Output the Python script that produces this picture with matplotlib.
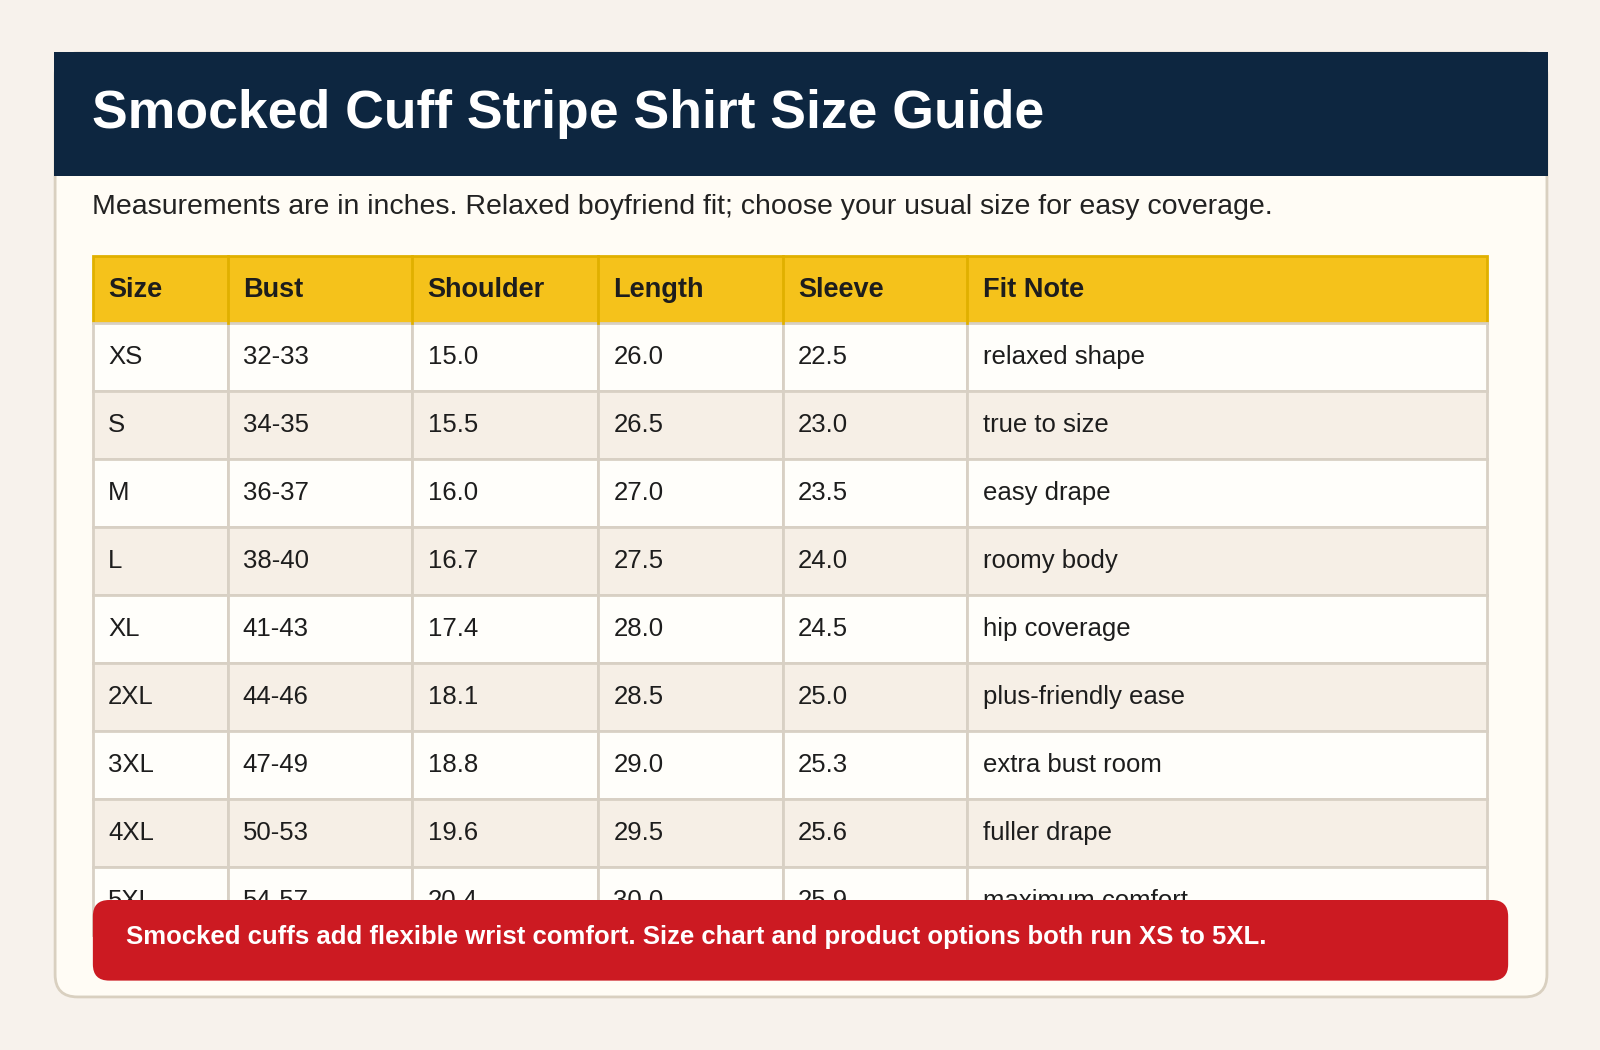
import matplotlib.pyplot as plt
from matplotlib.patches import FancyBboxPatch, Rectangle

plt.rcParams['font.family'] = ['Liberation Sans', 'DejaVu Sans']

title = 'Smocked Cuff Stripe Shirt Size Guide'
subtitle = 'Measurements are in inches. Relaxed boyfriend fit; choose your usual size for easy coverage.'
note = 'Smocked cuffs add flexible wrist comfort. Size chart and product options both run XS to 5XL.'

columns = ['Size', 'Bust', 'Shoulder', 'Length', 'Sleeve', 'Fit Note']
sizes = ['XS', 'S', 'M', 'L', 'XL', '2XL', '3XL', '4XL', '5XL']
bust = ['32-33', '34-35', '36-37', '38-40', '41-43', '44-46', '47-49', '50-53', '54-57']
shoulder = [15.0, 15.5, 16.0, 16.7, 17.4, 18.1, 18.8, 19.6, 20.4]
length = [26.0, 26.5, 27.0, 27.5, 28.0, 28.5, 29.0, 29.5, 30.0]
sleeve = [22.5, 23.0, 23.5, 24.0, 24.5, 25.0, 25.3, 25.6, 25.9]
fit_note = ['relaxed shape', 'true to size', 'easy drape', 'roomy body', 'hip coverage',
            'plus-friendly ease', 'extra bust room', 'fuller drape', 'maximum comfort']

W, H = 1568, 1029
fig = plt.figure(figsize=(16, 10.5), dpi=100)
fig.patch.set_facecolor('#f7f2ec')
ax = fig.add_axes([0, 0, 1, 1])
ax.set_xlim(0, W)
ax.set_ylim(H, 0)
ax.axis('off')

# card
ax.add_patch(FancyBboxPatch((54, 52), 1462, 925, boxstyle='round,pad=0,rounding_size=22',
                            fc='#fffcf5', ec='#d9d0c0', lw=2, zorder=1))
ax.add_patch(Rectangle((53, 51), 1464, 121, fc='#0d2640', ec='none', zorder=2))
ax.text(90, 112, title, color='white', fontsize=38.5, fontweight='bold', va='center', zorder=3)
ax.text(90, 203, subtitle, color='#222222', fontsize=20.5, va='center', zorder=3)

# table
xs = [91, 223, 404, 586, 767, 948, 1457]
top, hh, rh = 251, 66, 66.6
ax.add_patch(Rectangle((xs[0], top), xs[-1] - xs[0], hh, fc='#f5c21b', ec='#e0b000', lw=2, zorder=2))
for i, c in enumerate(columns):
    if i > 0:
        ax.plot([xs[i], xs[i]], [top, top + hh], color='#e0b000', lw=2, zorder=3)
    ax.text(xs[i] + 15, top + hh / 2, c, fontsize=19.5, fontweight='bold', color='#1d1d1d',
            va='center', zorder=4)

rows = list(zip(sizes, bust, [f'{v:.1f}' for v in shoulder], [f'{v:.1f}' for v in length],
                [f'{v:.1f}' for v in sleeve], fit_note))
for r, row in enumerate(rows):
    y0 = top + hh + r * rh
    fc = '#fffefa' if r % 2 == 0 else '#f6efe6'
    for i, val in enumerate(row):
        ax.add_patch(Rectangle((xs[i], y0), xs[i + 1] - xs[i], rh, fc=fc, ec='#d8d0c4', lw=2, zorder=2))
        ax.text(xs[i] + 15, y0 + rh / 2, val, fontsize=18.5, color='#1d1d1d', va='center', zorder=3)

# banner
ax.add_patch(FancyBboxPatch((91, 882), 1387, 79, boxstyle='round,pad=0,rounding_size=16',
                            fc='#cc1a22', ec='none', zorder=5))
ax.text(123, 918, note, color='white', fontsize=18.5, fontweight='bold', va='center', zorder=6)

fig.savefig('out.png', dpi=100, facecolor=fig.get_facecolor())
